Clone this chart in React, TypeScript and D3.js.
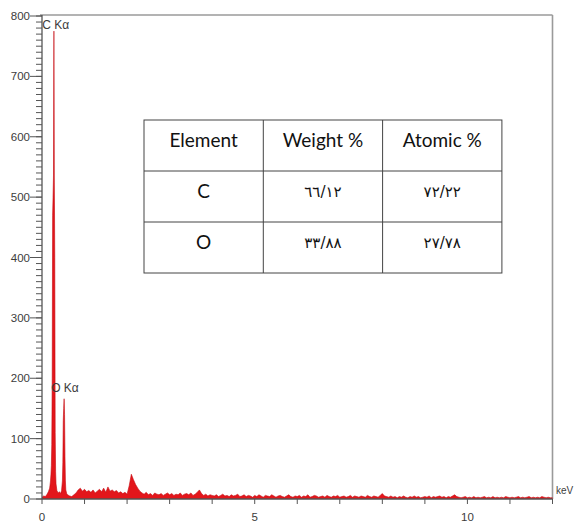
import React from "react";
import * as d3 from "d3";

// ---- Data ----
// Peak region, explicit energies (keV) and counts
const peakEnergyKeV = [0, 0.04, 0.08, 0.12, 0.15, 0.18, 0.2, 0.21, 0.22, 0.23, 0.24, 0.25, 0.26, 0.27, 0.28, 0.29, 0.3, 0.31, 0.32, 0.33, 0.35, 0.38, 0.41, 0.44, 0.46, 0.48, 0.49, 0.5, 0.51, 0.52, 0.53, 0.54, 0.55, 0.56, 0.58];
const peakCounts = [3, 5, 4, 8, 12, 18, 30, 40, 55, 90, 200, 470, 500, 535, 775, 530, 400, 110, 45, 25, 14, 10, 12, 9, 14, 30, 60, 130, 150, 166, 140, 70, 30, 15, 9];

// Remaining spectrum, 0.05 keV channels starting at 0.60 keV
const tailStartKeV = 0.6;
const tailStepKeV = 0.05;
const tailCounts = [
  7, 5, 4, 7, 10, 15, 18, 13,
  16, 12, 14, 11, 15, 10, 13, 16, 12, 18, 11, 20, 13, 15, 12, 14, 10, 12, 9, 11,
  8, 22, 41, 32, 24, 18, 13, 10, 8, 11, 7, 9, 6, 10, 8, 7, 9, 6, 8, 10,
  7, 9, 6, 8, 7, 10, 6, 8, 9, 7, 10, 6, 8, 11, 15, 9, 6, 8, 5, 7,
  6, 5, 7, 4, 6, 8, 5, 6, 4, 7, 5, 6, 8, 4, 5, 7, 4, 6, 5, 3,
  6, 4, 7, 5, 3, 6, 5, 4, 7, 5, 3, 5, 6, 4, 3, 5, 7, 4, 3, 5,
  4, 6, 3, 5, 4, 7, 3, 4, 6, 5, 3, 4, 5, 3, 6, 4, 3, 5, 4, 6,
  3, 4, 5, 3, 4, 6, 3, 5, 4, 3, 5, 4, 3, 6, 4, 3, 5, 4, 3, 6,
  9, 5, 4, 3, 5, 3, 4, 2, 4, 3, 5, 3, 2, 4, 3, 5, 3, 4, 2, 3,
  4, 3, 5, 2, 4, 3, 4, 5, 3, 4, 2, 4, 3, 5, 7, 4, 3, 2, 3, 4,
  2, 3, 2, 4, 2, 3, 2, 3, 4, 2, 3, 2, 4, 2, 3, 2, 3, 2, 4, 3,
  2, 3, 2, 3, 4, 2, 3, 2, 3, 4, 2, 3, 2, 3, 2, 4, 3, 2, 3, 2, 2,
];

const peakLabelNames = ["C K\u03b1", "O K\u03b1"];
const peakLabelKeV = [0.32, 0.54];
const peakLabelCounts = [785, 185];

const yMajorTicks = [0, 100, 200, 300, 400, 500, 600, 700, 800];
const xLabelTicks = [0, 5, 10];

const tableHeaders = ["Element", "Weight %", "Atomic %"];
const tableElements = ["C", "O"];
const tableWeight = ["\u0666\u0666/\u0661\u0662", "\u0663\u0663/\u0668\u0668"];
const tableAtomic = ["\u0667\u0662/\u0662\u0662", "\u0662\u0667/\u0667\u0668"];

export default function App() {
  const W = 576;
  const H = 523;
  const left = 42;
  const right = 552.5;
  const top = 16;
  const bottom = 499;

  const x = d3.scaleLinear().domain([0, 12]).range([left, right]);
  const y = d3.scaleLinear().domain([0, 800]).range([bottom, top]);

  const points: [number, number][] = [];
  peakEnergyKeV.forEach((e, i) => points.push([e, peakCounts[i]]));
  tailCounts.forEach((c, i) => points.push([tailStartKeV + i * tailStepKeV, c]));

  const area = d3
    .area<[number, number]>()
    .x((d) => x(d[0]))
    .y0(y(0))
    .y1((d) => y(d[1]))
    .curve(d3.curveLinear);

  const line = d3
    .line<[number, number]>()
    .x((d) => x(d[0]))
    .y((d) => y(d[1]))
    .curve(d3.curveLinear);

  const minorY = d3.range(0, 801, 10);
  const xTicks = d3.range(0, 13, 1);

  const axisColor = "#555";
  const labelColor = "#3c3c3c";

  // table geometry
  const tX = 144;
  const tY = 120;
  const colW = 119.3;
  const rowH = 51;
  const cols = [0, 1, 2, 3].map((i) => tX + i * colW);
  const rows = [0, 1, 2, 3].map((i) => tY + i * rowH);

  return (
    <svg
      width={W}
      height={H}
      style={{ position: "absolute", left: 0, top: 0, background: "#fff" }}
      fontFamily="'Liberation Sans', Arial, sans-serif"
    >
      <rect x={0} y={0} width={W} height={H} fill="#fff" />
      {/* frame */}
      <line x1={left - 2} x2={right} y1={15} y2={15} stroke="#9a9a9a" strokeWidth={1.6} />
      <line x1={right} x2={right} y1={15} y2={bottom} stroke="#9a9a9a" strokeWidth={1.6} />

      {/* spectrum */}
      <path d={area(points) || ""} fill="#e3161b" />
      <path d={line(points) || ""} fill="none" stroke="#c40a10" strokeWidth={0.6} />

      {/* y axis */}
      <line x1={left} x2={left} y1={15} y2={bottom} stroke={axisColor} strokeWidth={1.3} />
      {minorY.map((v) => (
        <line key={"m" + v} x1={left - 6} x2={left} y1={y(v)} y2={y(v)} stroke={axisColor} strokeWidth={1} />
      ))}
      {yMajorTicks.map((v) => (
        <g key={"M" + v}>
          <line x1={left - 12} x2={left} y1={y(v)} y2={y(v)} stroke={axisColor} strokeWidth={1} />
          <text x={left - 12} y={y(v)} dy="0.35em" textAnchor="end" fontSize={11.5} fill={labelColor}>
            {v}
          </text>
        </g>
      ))}

      {/* x axis */}
      <line x1={left} x2={right} y1={bottom} y2={bottom} stroke={axisColor} strokeWidth={1.3} />
      {xTicks.map((v) => (
        <line key={"x" + v} x1={x(v)} x2={x(v)} y1={bottom} y2={bottom + 5} stroke={axisColor} strokeWidth={1} />
      ))}
      {xLabelTicks.map((v) => (
        <text key={"xl" + v} x={x(v)} y={521} textAnchor="middle" fontSize={11.5} fill={labelColor}>
          {v}
        </text>
      ))}
      <text x={556} y={494} fontSize={10} fill={labelColor}>
        keV
      </text>

      {/* peak labels */}
      {peakLabelNames.map((n, i) => (
        <text
          key={n}
          x={x(peakLabelKeV[i])}
          y={y(peakLabelCounts[i])}
          dy="0.35em"
          textAnchor="middle"
          fontSize={12}
          fill={labelColor}
        >
          {n}
        </text>
      ))}

      {/* table */}
      <g>
        <rect x={tX} y={tY} width={colW * 3} height={rowH * 3} fill="#fff" stroke="#444" strokeWidth={1} />
        {rows.slice(1, 3).map((ry, i) => (
          <line key={"r" + i} x1={tX} x2={tX + colW * 3} y1={ry} y2={ry} stroke="#444" strokeWidth={1} />
        ))}
        {cols.slice(1, 3).map((cx, i) => (
          <line key={"c" + i} x1={cx} x2={cx} y1={tY} y2={tY + rowH * 3} stroke="#444" strokeWidth={1} />
        ))}
        {tableHeaders.map((h, i) => (
          <text
            key={h}
            x={cols[i] + colW / 2}
            y={rows[0] + rowH * 0.4}
            dy="0.35em"
            textAnchor="middle"
            fontSize={19}
            fontFamily="Lato, 'Open Sans', sans-serif"
            fill="#111"
          >
            {h}
          </text>
        ))}
        {tableElements.map((el, r) => (
          <g key={el}>
            <text
              x={cols[0] + colW / 2}
              y={rows[r + 1] + rowH * 0.4}
              dy="0.35em"
              textAnchor="middle"
              fontSize={19}
              fontFamily="Lato, 'Open Sans', sans-serif"
              fill="#111"
            >
              {el}
            </text>
            <text
              x={cols[1] + colW / 2}
              y={rows[r + 1] + rowH * 0.4}
              dy="0.35em"
              textAnchor="middle"
              fontSize={15}
              fontFamily="'DejaVu Sans', sans-serif"
              fill="#111"
              direction="ltr"
            >
              {tableWeight[r]}
            </text>
            <text
              x={cols[2] + colW / 2}
              y={rows[r + 1] + rowH * 0.4}
              dy="0.35em"
              textAnchor="middle"
              fontSize={15}
              fontFamily="'DejaVu Sans', sans-serif"
              fill="#111"
              direction="ltr"
            >
              {tableAtomic[r]}
            </text>
          </g>
        ))}
      </g>
    </svg>
  );
}
